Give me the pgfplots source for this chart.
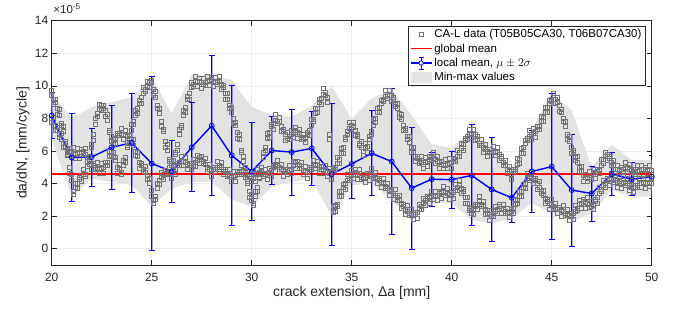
\documentclass[border=0pt]{standalone}
\usepackage{pgfplots}
\pgfplotsset{compat=1.18}
\usepackage{pgfplotstable}
\usepackage{fontspec}
\setmainfont{Liberation Sans}

\definecolor{axgray}{rgb}{0.15,0.15,0.15}
\definecolor{gridgray}{rgb}{0.92,0.92,0.92}
\definecolor{shade}{rgb}{0.89,0.89,0.89}
\definecolor{ptgray}{rgb}{0.45,0.45,0.45}
\definecolor{barblue}{rgb}{0,0,1}

\pgfplotstableread{
x P Q Pc Qc
20.0 9.70 7.75 9.40 8.00
20.1 8.90 8.10 9.20 7.80
20.2 9.15 7.25 9.00 7.60
20.3 8.25 7.45 8.60 7.30
20.4 8.55 6.85 8.20 7.00
20.5 7.55 7.10 7.70 6.75
20.6 7.50 6.25 7.20 6.50
20.7 6.20 6.60 6.50 6.30
20.8 5.95 5.75 5.80 6.10
20.9 4.65 6.15 5.00 6.00
21.0 4.55 5.75 4.20 5.90
21.1 3.35 6.20 3.50 5.85
21.2 4.05 5.55 3.75 5.80
21.3 3.70 6.15 4.00 5.85
21.4 4.40 5.55 4.25 5.90
21.5 4.15 6.10 4.50 5.95
21.6 4.90 5.85 4.55 6.00
21.7 4.45 6.15 4.60 5.80
21.8 5.35 5.35 5.05 5.60
21.9 5.20 5.70 5.50 5.40
22.0 6.40 4.85 6.25 5.20
22.1 6.65 5.25 7.00 5.10
22.2 8.00 4.85 7.65 5.00
22.3 8.15 5.30 8.30 4.95
22.4 8.85 4.65 8.55 4.90
22.5 8.50 5.25 8.80 4.95
22.6 8.80 4.65 8.65 5.00
22.7 8.15 5.30 8.50 5.15
22.8 8.25 5.15 7.90 5.30
22.9 7.15 6.00 7.30 5.65
23.0 6.90 5.75 6.60 6.00
23.1 5.60 6.70 5.90 6.40
23.2 5.60 6.45 5.45 6.80
23.3 4.65 7.10 5.00 6.95
23.4 5.20 6.95 4.85 7.10
23.5 4.55 7.40 4.70 7.05
23.6 5.45 6.75 5.15 7.00
23.7 5.30 7.25 5.60 6.95
23.8 6.35 6.55 6.20 6.90
23.9 6.45 6.95 6.80 6.80
24.0 7.65 6.55 7.30 6.70
24.1 7.65 6.70 7.80 6.35
24.2 8.50 5.75 8.20 6.00
24.3 8.30 5.95 8.60 5.65
24.4 9.10 4.95 8.95 5.30
24.5 8.95 5.25 9.30 5.10
24.6 9.90 4.75 9.55 4.90
24.7 9.65 5.05 9.80 4.70
24.8 10.30 4.25 10.00 4.50
24.9 9.90 4.35 10.20 4.05
25.0 10.35 3.25 10.20 3.60
25.1 9.45 2.95 9.80 2.80
25.2 9.65 3.05 9.30 3.20
25.3 8.65 4.05 8.80 3.70
25.4 8.60 3.95 8.30 4.20
25.5 7.50 4.70 7.80 4.40
25.6 7.35 4.25 7.20 4.60
25.7 6.25 4.80 6.60 4.65
25.8 6.40 4.55 6.05 4.70
25.9 5.35 5.00 5.50 4.65
26.0 5.40 4.35 5.10 4.60
26.1 5.15 5.05 5.45 4.75
26.2 5.95 4.55 5.80 4.90
26.3 6.05 5.25 6.40 5.10
26.4 7.35 5.15 7.00 5.30
26.5 7.45 5.70 7.60 5.35
26.6 8.50 5.15 8.20 5.40
26.7 8.40 5.60 8.70 5.30
26.8 9.35 4.85 9.20 5.20
26.9 9.20 5.25 9.55 5.10
27.0 10.25 4.85 9.90 5.00
27.1 9.95 5.50 10.10 5.15
27.2 10.60 5.05 10.30 5.30
27.3 10.00 5.75 10.30 5.45
27.4 10.45 5.25 10.30 5.60
27.5 9.85 5.65 10.20 5.50
27.6 10.45 5.25 10.10 5.40
27.7 10.05 5.55 10.20 5.20
27.8 10.60 4.75 10.30 5.00
27.9 10.05 5.20 10.35 4.90
28.0 10.55 4.45 10.40 4.80
28.1 9.95 5.00 10.30 4.85
28.2 10.55 4.75 10.20 4.90
28.3 10.10 5.35 10.25 5.00
28.4 10.60 4.85 10.30 5.10
28.5 9.80 5.30 10.10 5.00
28.6 10.05 4.55 9.90 4.90
28.7 9.20 4.90 9.55 4.75
28.8 9.55 4.45 9.20 4.60
28.9 8.65 4.85 8.80 4.50
29.0 8.70 4.15 8.40 4.40
29.1 7.70 4.75 8.00 4.45
29.2 7.75 4.15 7.60 4.50
29.3 6.80 4.75 7.15 4.60
29.4 7.05 4.55 6.70 4.70
29.5 5.90 5.10 6.05 4.75
29.6 5.70 4.55 5.40 4.80
29.7 4.40 5.00 4.70 4.70
29.8 4.15 4.25 4.00 4.60
29.9 3.15 4.60 3.50 4.45
30.0 3.35 4.15 3.00 4.30
30.1 2.65 4.70 2.80 4.35
30.2 3.50 4.15 3.20 4.40
30.3 3.50 4.85 3.80 4.55
30.4 4.55 4.35 4.40 4.70
30.5 4.65 4.80 5.00 4.65
30.6 5.95 4.45 5.60 4.60
30.7 6.05 4.90 6.20 4.55
30.8 7.10 4.25 6.80 4.50
30.9 6.85 4.95 7.15 4.65
31.0 7.65 4.45 7.50 4.80
31.1 7.35 5.15 7.70 5.00
31.2 8.25 5.05 7.90 5.20
31.3 7.70 5.45 7.85 5.10
31.4 8.10 4.75 7.80 5.00
31.5 7.20 5.20 7.50 4.90
31.6 7.35 4.45 7.20 4.80
31.7 6.65 4.90 7.00 4.75
31.8 7.15 4.55 6.80 4.70
31.9 6.75 5.15 6.90 4.80
32.0 7.30 4.65 7.00 4.90
32.1 6.85 5.40 7.15 5.10
32.2 7.45 4.95 7.30 5.30
32.3 6.80 5.35 7.15 5.20
32.4 7.35 4.95 7.00 5.10
32.5 6.70 5.30 6.85 4.95
32.6 7.00 4.55 6.70 4.80
32.7 6.55 5.05 6.85 4.75
32.8 7.15 4.35 7.00 4.70
32.9 6.95 5.00 7.30 4.85
33.0 7.95 4.85 7.60 5.00
33.1 7.80 5.45 7.95 5.10
33.2 8.60 4.95 8.30 5.20
33.3 8.35 5.40 8.65 5.10
33.4 9.15 4.65 9.00 5.00
33.5 8.90 5.05 9.25 4.90
33.6 9.85 4.65 9.50 4.80
33.7 9.45 5.10 9.60 4.75
33.8 9.30 4.45 9.00 4.70
33.9 6.70 4.95 7.00 4.65
34.0 4.75 4.25 4.60 4.60
34.1 2.25 4.95 2.60 4.80
34.2 2.65 4.85 2.30 5.00
34.3 2.60 5.60 2.75 5.25
34.4 3.50 5.25 3.20 5.50
34.5 3.20 6.15 3.50 5.85
34.6 3.95 5.85 3.80 6.20
34.7 3.65 6.85 4.00 6.70
34.8 4.55 7.05 4.20 7.20
34.9 4.20 7.75 4.35 7.40
35.0 4.80 7.35 4.50 7.60
35.1 4.30 7.75 4.60 7.45
35.2 4.85 6.95 4.70 7.30
35.3 4.25 7.05 4.60 6.90
35.4 4.85 6.35 4.50 6.50
35.5 4.25 6.60 4.40 6.25
35.6 4.60 5.75 4.30 6.00
35.7 4.10 6.45 4.40 6.15
35.8 4.65 5.95 4.50 6.30
35.9 4.20 6.90 4.55 6.75
36.0 4.95 7.05 4.60 7.20
36.1 4.35 7.95 4.50 7.60
36.2 4.70 7.75 4.40 8.00
36.3 4.00 8.65 4.30 8.35
36.4 4.35 8.35 4.20 8.70
36.5 3.75 9.10 4.10 8.95
36.6 4.35 9.05 4.00 9.20
36.7 3.70 9.70 3.85 9.35
36.8 4.00 9.25 3.70 9.50
36.9 3.30 9.75 3.60 9.45
37.0 3.65 9.05 3.50 9.40
37.1 3.05 9.30 3.40 9.15
37.2 3.65 8.75 3.30 8.90
37.3 3.00 8.95 3.15 8.60
37.4 3.30 8.05 3.00 8.30
37.5 2.50 8.25 2.80 7.95
37.6 2.75 7.25 2.60 7.60
37.7 2.10 7.40 2.45 7.25
37.8 2.65 6.75 2.30 6.90
37.9 2.05 6.90 2.20 6.55
38.0 2.40 5.95 2.10 6.20
38.1 1.80 6.25 2.10 5.95
38.2 2.25 5.35 2.10 5.70
38.3 1.90 5.70 2.25 5.55
38.4 2.75 5.25 2.40 5.40
38.5 2.45 5.65 2.60 5.30
38.6 3.10 4.95 2.80 5.20
38.7 2.65 5.60 2.95 5.30
38.8 3.25 5.05 3.10 5.40
38.9 2.80 5.65 3.15 5.50
39.0 3.55 5.45 3.20 5.60
39.1 3.05 5.90 3.20 5.55
39.2 3.50 5.25 3.20 5.50
39.3 3.00 5.70 3.30 5.40
39.4 3.55 4.95 3.40 5.30
39.5 3.10 5.35 3.45 5.20
39.6 3.85 4.95 3.50 5.10
39.7 3.30 5.50 3.45 5.15
39.8 3.70 4.95 3.40 5.20
39.9 3.05 5.55 3.35 5.25
40.0 3.45 4.95 3.30 5.30
40.1 3.10 5.55 3.45 5.40
40.2 3.95 5.35 3.60 5.50
40.3 3.60 6.05 3.75 5.70
40.4 4.20 5.65 3.90 5.90
40.5 3.40 6.45 3.70 6.15
40.6 3.65 6.05 3.50 6.40
40.7 2.80 6.80 3.15 6.65
40.8 3.15 6.75 2.80 6.90
40.9 2.35 7.35 2.50 7.00
41.0 2.50 6.85 2.20 7.10
41.1 2.10 7.35 2.40 7.05
41.2 2.75 6.65 2.60 7.00
41.3 2.40 6.90 2.75 6.75
41.4 3.25 6.35 2.90 6.50
41.5 2.60 6.70 2.75 6.35
41.6 2.90 5.95 2.60 6.20
41.7 2.10 6.40 2.40 6.10
41.8 2.35 5.65 2.20 6.00
41.9 1.75 6.10 2.10 5.95
42.0 2.35 5.75 2.00 5.90
42.1 2.00 6.30 2.15 5.95
42.2 2.60 5.75 2.30 6.00
42.3 2.15 6.20 2.45 5.90
42.4 2.75 5.45 2.60 5.80
42.5 2.15 5.70 2.50 5.55
42.6 2.75 5.15 2.40 5.30
42.7 2.15 5.45 2.30 5.10
42.8 2.50 4.65 2.20 4.90
42.9 1.95 5.05 2.25 4.75
43.0 2.45 4.25 2.30 4.60
43.1 2.15 4.90 2.50 4.75
43.2 3.05 4.75 2.70 4.90
43.3 2.80 5.55 2.95 5.20
43.4 3.50 5.25 3.20 5.50
43.5 3.20 6.15 3.50 5.85
43.6 3.95 5.85 3.80 6.20
43.7 3.70 6.65 4.05 6.50
43.8 4.65 6.65 4.30 6.80
43.9 4.20 7.25 4.35 6.90
44.0 4.70 6.75 4.40 7.00
44.1 4.00 7.40 4.30 7.10
44.2 4.35 6.85 4.20 7.20
44.3 3.65 7.50 4.00 7.35
44.4 4.15 7.35 3.80 7.50
44.5 3.40 8.15 3.55 7.80
44.6 3.60 7.85 3.30 8.10
44.7 2.80 8.70 3.10 8.40
44.8 3.05 8.35 2.90 8.70
44.9 2.45 9.10 2.80 8.95
45.0 3.05 9.05 2.70 9.20
45.1 2.45 9.55 2.60 9.20
45.2 2.80 8.95 2.50 9.20
45.3 2.15 9.30 2.45 9.00
45.4 2.55 8.45 2.40 8.80
45.5 2.00 8.55 2.35 8.40
45.6 2.65 7.85 2.30 8.00
45.7 2.05 7.85 2.20 7.50
45.8 2.40 6.75 2.10 7.00
45.9 1.75 6.90 2.05 6.60
46.0 2.15 5.85 2.00 6.20
46.1 1.80 6.05 2.15 5.90
46.2 2.65 5.45 2.30 5.60
46.3 2.35 5.65 2.50 5.30
46.4 3.00 4.75 2.70 5.00
46.5 2.50 5.05 2.80 4.75
46.6 3.05 4.15 2.90 4.50
46.7 2.50 4.55 2.85 4.40
46.8 3.15 4.15 2.80 4.30
46.9 2.55 4.75 2.70 4.40
47.0 2.90 4.25 2.60 4.50
47.1 2.45 4.90 2.75 4.60
47.2 3.05 4.35 2.90 4.70
47.3 2.80 4.90 3.15 4.75
47.4 3.75 4.65 3.40 4.80
47.5 3.50 5.50 3.65 5.15
47.6 4.20 5.25 3.90 5.50
47.7 3.75 5.95 4.05 5.65
47.8 4.35 5.45 4.20 5.80
47.9 3.90 5.70 4.25 5.55
48.0 4.65 5.15 4.30 5.30
48.1 4.10 5.45 4.25 5.10
48.2 4.50 4.65 4.20 4.90
48.3 3.80 5.15 4.10 4.85
48.4 4.15 4.45 4.00 4.80
48.5 3.70 5.00 4.05 4.85
48.6 4.45 4.75 4.10 4.90
48.7 3.90 5.30 4.05 4.95
48.8 4.30 4.75 4.00 5.00
48.9 3.60 5.20 3.90 4.90
49.0 3.95 4.45 3.80 4.80
49.1 3.45 4.90 3.80 4.75
49.2 4.15 4.55 3.80 4.70
49.3 3.75 5.10 3.90 4.75
49.4 4.30 4.55 4.00 4.80
49.5 3.75 5.15 4.05 4.85
49.6 4.25 4.55 4.10 4.90
49.7 3.70 5.00 4.05 4.85
49.8 4.35 4.65 4.00 4.80
49.9 3.85 5.15 4.00 4.80
50.0 4.30 4.55 4.00 4.80
}\scatterdata

\begin{document}
\begin{tikzpicture}
\useasboundingbox (-51.7bp,-45bp) rectangle (629.3bp,265bp);
\begin{axis}[
  scale only axis, width=600bp, height=244.3bp,
  xmin=20, xmax=50, ymin=-1, ymax=14,
  xtick={20,25,...,50}, ytick={0,2,...,14},
  grid=major, grid style={draw=gridgray, line width=0.5bp},
  axis line style={draw=axgray, line width=0.6bp},
  every tick/.style={draw=axgray, line width=0.6bp},
  major tick length=5bp,
  tick align=inside, tick pos=both,
  /pgf/number format/assume math mode=true,
  tick label style={font=\fontsize{12bp}{14bp}\selectfont, text=axgray},
  xticklabel style={yshift=-5bp},
  xlabel={crack extension, Δa [mm]},
  ylabel={da/dN, [mm/cycle]},
  xlabel style={font=\fontsize{14bp}{16bp}\selectfont, text=axgray, at={(axis description cs:0.5,0)}, anchor=center, yshift=-27.5bp},
  ylabel style={font=\fontsize{14bp}{16bp}\selectfont, text=axgray, at={(axis description cs:-0.0478,0.5)}, anchor=center},
  legend cell align=left,
  legend style={at={(1,1)}, anchor=north east, xshift=-6bp, yshift=-5bp,
    draw=axgray, line width=0.5bp, fill=white,
    font=\fontsize{11.5bp}{13bp}\selectfont, inner xsep=2bp, inner ysep=1.5bp,
    row sep=0.5bp},
]
% min-max envelope
\addplot[fill=shade, draw=none, forget plot] coordinates {
(20,9.55) (21,8.0) (22,8.7) (23,9.0) (24,9.3) (25,10.56) (26,8.3) (27,10.66) (28,10.66) (29,10.36)
(30,8.7) (31,8.2) (32,8.1) (33,8.8) (34,9.95) (35,8.0) (36,9.23) (37,9.8) (38,8.2) (39,6.4)
(40,6.2) (41,7.3) (42,6.3) (43,5.0) (44,7.3) (45,9.54) (46,8.5) (47,5.0) (48,6.4) (49,5.45) (50,5.45)
(50,3.2) (49,3.2) (48,3.6) (47,2.17) (46,1.66) (45,2.17) (44,2.8) (43,1.86) (42,1.56) (41,1.76)
(40,2.8) (39,2.8) (38,1.76) (37,3.0) (36,4.0) (35,3.9) (34,1.97) (33,4.3) (32,4.1) (31,3.8)
(30,2.58) (29,3.0) (28,4.1) (27,4.1) (26,3.7) (25,2.58) (24,3.9) (23,4.1) (22,4.3) (21,3.2) (20,6.7)
} -- cycle;
% scatter data, two specimens
\addplot[only marks, mark=square, mark size=2bp, mark options={draw=ptgray, line width=0.5bp, fill=none}, forget plot]
  table[x=x, y=Pc] {\scatterdata};
\addplot[only marks, mark=square, mark size=2bp, mark options={draw=ptgray, line width=0.5bp, fill=none}, forget plot]
  table[x=x, y=Qc] {\scatterdata};
\addplot[only marks, mark=square, mark size=2bp, mark options={draw=ptgray, line width=0.5bp, fill=none}, forget plot]
  table[x=x, y=P] {\scatterdata};
\addplot[only marks, mark=square, mark size=2bp, mark options={draw=ptgray, line width=0.5bp, fill=none}, forget plot]
  table[x=x, y=Q] {\scatterdata};
% global mean
\addplot[red, line width=1.6bp, forget plot] coordinates {(20,4.58) (50,4.58)};
% local mean +- 2 sigma: bars drawn as thin filled strips (mean - 2 sigma to mean + 2 sigma)
\addplot[fill=barblue, draw=none, forget plot, unbounded coords=jump] coordinates {
(19.97,6.75) (20.03,6.75) (20.03,9.61) (19.97,9.61) (19.97,6.75) (20,nan)
(20.97,2.90) (21.03,2.90) (21.03,8.30) (20.97,8.30) (20.97,2.90) (21,nan)
(21.97,3.85) (22.03,3.85) (22.03,7.41) (21.97,7.41) (21.97,3.85) (22,nan)
(22.97,3.65) (23.03,3.65) (23.03,8.81) (22.97,8.81) (22.97,3.65) (23,nan)
(23.97,3.45) (24.03,3.45) (24.03,9.55) (23.97,9.55) (23.97,3.45) (24,nan)
(24.97,-0.10) (25.03,-0.10) (25.03,10.56) (24.97,10.56) (24.97,-0.10) (25,nan)
(25.97,2.85) (26.03,2.85) (26.03,6.65) (25.97,6.65) (25.97,2.85) (26,nan)
(26.97,3.50) (27.03,3.50) (27.03,8.96) (26.97,8.96) (26.97,3.50) (27,nan)
(27.97,3.25) (28.03,3.25) (28.03,11.85) (27.97,11.85) (27.97,3.25) (28,nan)
(28.97,1.45) (29.03,1.45) (29.03,10.01) (28.97,10.01) (28.97,1.45) (29,nan)
(29.97,1.72) (30.03,1.72) (30.03,7.76) (29.97,7.76) (29.97,1.72) (30,nan)
(30.97,3.95) (31.03,3.95) (31.03,8.11) (30.97,8.11) (30.97,3.95) (31,nan)
(31.97,3.30) (32.03,3.30) (32.03,8.56) (31.97,8.56) (31.97,3.30) (32,nan)
(32.97,3.90) (33.03,3.90) (33.03,8.42) (32.97,8.42) (32.97,3.90) (33,nan)
(33.97,0.23) (34.03,0.23) (34.03,8.93) (33.97,8.93) (33.97,0.23) (34,nan)
(34.97,3.09) (35.03,3.09) (35.03,7.33) (34.97,7.33) (34.97,3.09) (35,nan)
(35.97,3.26) (36.03,3.26) (36.03,8.46) (35.97,8.46) (35.97,3.26) (36,nan)
(36.97,0.85) (37.03,0.85) (37.03,9.85) (36.97,9.85) (36.97,0.85) (37,nan)
(37.97,-0.02) (38.03,-0.02) (38.03,7.46) (37.97,7.46) (37.97,-0.02) (38,nan)
(38.97,2.62) (39.03,2.62) (39.03,5.92) (38.97,5.92) (38.97,2.62) (39,nan)
(39.97,2.48) (40.03,2.48) (40.03,6.00) (39.97,6.00) (39.97,2.48) (40,nan)
(40.97,1.40) (41.03,1.40) (41.03,7.60) (40.97,7.60) (40.97,1.40) (41,nan)
(41.97,0.44) (42.03,0.44) (42.03,6.84) (41.97,6.84) (41.97,0.44) (42,nan)
(42.97,1.63) (43.03,1.63) (43.03,4.63) (42.97,4.63) (42.97,1.63) (43,nan)
(43.97,2.23) (44.03,2.23) (44.03,7.25) (43.97,7.25) (43.97,2.23) (44,nan)
(44.97,0.54) (45.03,0.54) (45.03,9.54) (44.97,9.54) (44.97,0.54) (45,nan)
(45.97,0.16) (46.03,0.16) (46.03,7.04) (45.97,7.04) (45.97,0.16) (46,nan)
(46.97,1.70) (47.03,1.70) (47.03,5.08) (46.97,5.08) (46.97,1.70) (47,nan)
(47.97,3.24) (48.03,3.24) (48.03,5.92) (47.97,5.92) (47.97,3.24) (48,nan)
(48.97,3.24) (49.03,3.24) (49.03,5.30) (48.97,5.30) (48.97,3.24) (49,nan)
(49.97,3.09) (50.03,3.09) (50.03,5.75) (49.97,5.75) (49.97,3.09)
};
% caps of the bars
\addplot[only marks, mark=-, mark size=3bp, mark options={draw=barblue, line width=0.9bp}, clip marker paths=true, forget plot] coordinates {
(20,6.75) (20,9.61) (21,2.90) (21,8.30) (22,3.85) (22,7.41) (23,3.65) (23,8.81)
(24,3.45) (24,9.55) (25,-0.10) (25,10.56) (26,2.85) (26,6.65) (27,3.50) (27,8.96)
(28,3.25) (28,11.85) (29,1.45) (29,10.01) (30,1.72) (30,7.76) (31,3.95) (31,8.11)
(32,3.30) (32,8.56) (33,3.90) (33,8.42) (34,0.23) (34,8.93) (35,3.09) (35,7.33)
(36,3.26) (36,8.46) (37,0.85) (37,9.85) (38,-0.02) (38,7.46) (39,2.62) (39,5.92)
(40,2.48) (40,6.00) (41,1.40) (41,7.60) (42,0.44) (42,6.84) (43,1.63) (43,4.63)
(44,2.23) (44,7.25) (45,0.54) (45,9.54) (46,0.16) (46,7.04) (47,1.70) (47,5.08)
(48,3.24) (48,5.92) (49,3.24) (49,5.30) (50,3.09) (50,5.75)
};
% local mean
\addplot[blue, line width=1.4bp, mark=o, mark size=2.5bp, mark options={line width=0.8bp, fill=none}, forget plot]
coordinates {
(20,8.18) (21,5.60) (22,5.63) (23,6.23) (24,6.50) (25,5.23) (26,4.75) (27,6.23) (28,7.55) (29,5.73)
(30,4.74) (31,6.03) (32,5.93) (33,6.16) (34,4.58) (35,5.21) (36,5.86) (37,5.35) (38,3.72) (39,4.27)
(40,4.24) (41,4.50) (42,3.64) (43,3.13) (44,4.74) (45,5.04) (46,3.60) (47,3.39) (48,4.58) (49,4.27)
(50,4.42)
};
% legend
\addlegendimage{draw=none, fill=none, legend image code/.code={\draw[ptgray, line width=0.5bp] (8.5bp,-2bp) rectangle (12.5bp,2bp);}}
\addlegendentry{CA-L data (T05B05CA30, T06B07CA30)}
\addlegendimage{draw=none, fill=none, legend image code/.code={\draw[red, line width=1.5bp] (0bp,0bp) -- (21bp,0bp);}}
\addlegendentry{global mean}
\addlegendimage{draw=none, fill=none, legend image code/.code={
  \draw[blue, line width=1.3bp] (0bp,0bp) -- (21bp,0bp);
  \fill[blue] (9.9bp,-6bp) rectangle (11.1bp,6bp);
  \draw[blue, line width=0.9bp] (8bp,6bp) -- (13bp,6bp) (8bp,-6bp) -- (13bp,-6bp);
  \draw[blue, line width=0.8bp, fill=white] (10.5bp,0bp) circle (2.2bp);}}
\addlegendentry{local mean, $\mu\pm2\sigma$}
\addlegendimage{draw=none, fill=none, legend image code/.code={\path[fill=shade, draw=none] (0bp,-5.5bp) rectangle (21bp,5.5bp);}}
\addlegendentry{Min-max values}
\end{axis}
\node[anchor=base west, inner sep=0pt, text=axgray, font=\fontsize{11.5bp}{12bp}\selectfont] at (1.6bp,251bp) {×10\textsuperscript{-5}};
\end{tikzpicture}
\end{document}
